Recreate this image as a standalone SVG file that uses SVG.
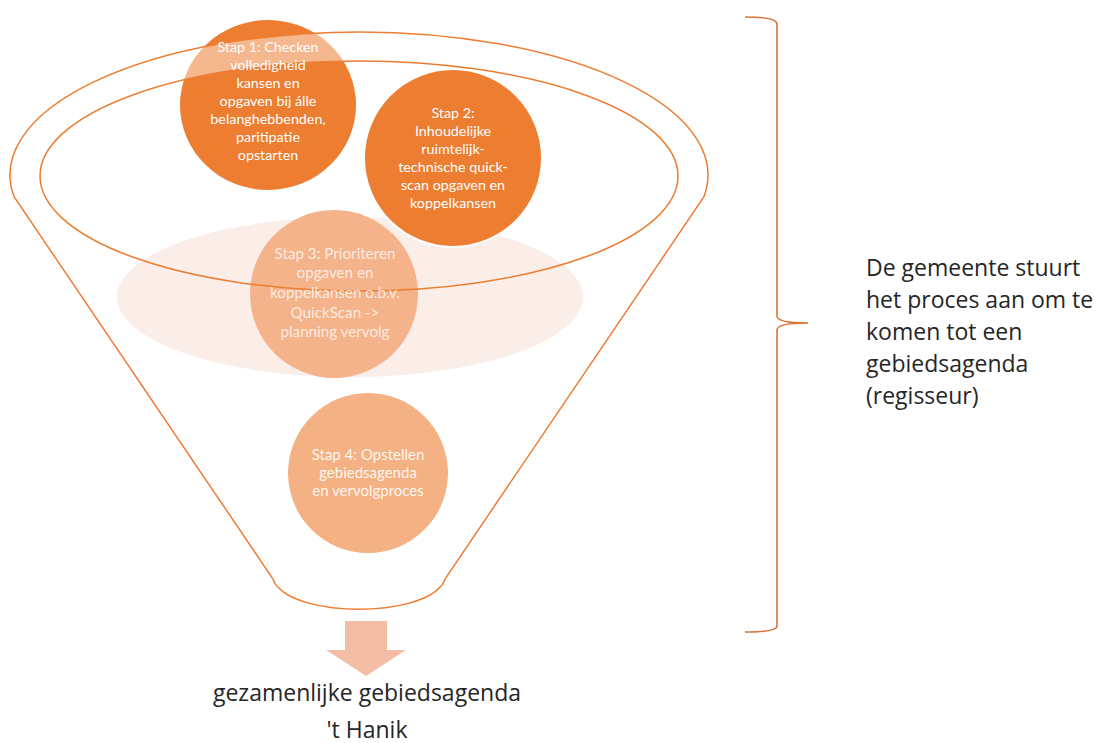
<svg xmlns="http://www.w3.org/2000/svg" width="1101" height="743" viewBox="0 0 1101 743">
<style>
.ct{font-family:Lato,"Open Sans","Liberation Sans",sans-serif;font-size:14.3px;fill:#ffffff;text-anchor:middle}
.ct3{fill-opacity:0.75;font-size:15.2px}
.ct4{fill-opacity:0.9;font-size:15px}
.lbl{font-family:"Open Sans",Lato,"Liberation Sans",sans-serif;font-size:23px;fill:#262626}
.fun{fill:none;stroke:#ED7D31;stroke-width:1.5}
</style>
<rect width="1101" height="743" fill="#ffffff"/>
<g id="backdrop">
<ellipse cx="350" cy="297" rx="233" ry="80" fill="#FBEDE8"/>
</g>
<g id="stap1">
<ellipse cx="268" cy="105" rx="88" ry="85" fill="#ED7D31"/>
</g>
<g id="stap2">
<circle cx="453" cy="158" r="89" fill="#ED7D31" stroke="#ffffff" stroke-width="2"/>
</g>
<g id="stap3">
<circle cx="334" cy="294" r="84" fill="#F4B38A"/>
</g>
<g id="stap4">
<circle cx="368" cy="473" r="80" fill="#F4B183"/>
</g>
<g id="funnel">
<path d="M 10 175 A 349 143 0 0 1 708 175 L 678 176 A 319 115 0 0 0 40 176 Z" fill="#ffffff" fill-opacity="0.45"/>
<path class="fun" d="M 14.2 197 A 349 143 0 1 1 703.8 197 L 445 579 Q 443 585 440 587 A 85 32 0 0 1 278 587 Q 275 585 273 579 Z"/>
<ellipse class="fun" cx="359" cy="176" rx="319" ry="115"/>
</g>
<g id="labels1">
<text class="ct" x="268" y="52">Stap 1: Checken</text>
<text class="ct" x="268" y="70">volledigheid</text>
<text class="ct" x="268" y="88">kansen en</text>
<text class="ct" x="268" y="106">opgaven bij álle</text>
<text class="ct" x="268" y="124">belanghebbenden,</text>
<text class="ct" x="268" y="142">paritipatie</text>
<text class="ct" x="268" y="160">opstarten</text>
</g>
<g id="labels2">
<text class="ct" x="453" y="118">Stap 2:</text>
<text class="ct" x="453" y="136">Inhoudelijke</text>
<text class="ct" x="453" y="154">ruimtelijk-</text>
<text class="ct" x="453" y="172">technische quick-</text>
<text class="ct" x="453" y="190">scan opgaven en</text>
<text class="ct" x="453" y="208">koppelkansen</text>
</g>
<g id="labels3">
<text class="ct ct3" x="335" y="259">Stap 3: Prioriteren</text>
<text class="ct ct3" x="335" y="278">opgaven en</text>
<text class="ct ct3" x="335" y="298">koppelkansen o.b.v.</text>
<text class="ct ct3" x="335" y="318">QuickScan -&gt;</text>
<text class="ct ct3" x="335" y="337">planning vervolg</text>
</g>
<g id="labels4">
<text class="ct ct4" x="368" y="460">Stap 4: Opstellen</text>
<text class="ct ct4" x="368" y="478">gebiedsagenda</text>
<text class="ct ct4" x="368" y="496">en vervolgproces</text>
</g>
<g id="connectors">
<path d="M 345 621 H 387 V 650 H 406 L 366 676 L 326 650 H 345 Z" fill="#F4BEA6"/>
<path d="M 745 17 Q 777 17 777 24 V 316 Q 777 323 808 323 Q 777 323 777 330 V 626 Q 777 632 745 632" fill="none" stroke="#D4773A" stroke-width="1.6"/>
</g>
<g id="brace-label">
<text class="lbl" x="866" y="276">De gemeente stuurt</text>
<text class="lbl" x="866" y="308">het proces aan om te</text>
<text class="lbl" x="866" y="340">komen tot een</text>
<text class="lbl" x="866" y="372">gebiedsagenda</text>
<text class="lbl" x="866" y="404">(regisseur)</text>
</g>
<g id="output">
<text class="lbl" x="367" y="701" text-anchor="middle">gezamenlijke gebiedsagenda</text>
<text class="lbl" x="367" y="738" text-anchor="middle">'t Hanik</text>
</g>
</svg>
